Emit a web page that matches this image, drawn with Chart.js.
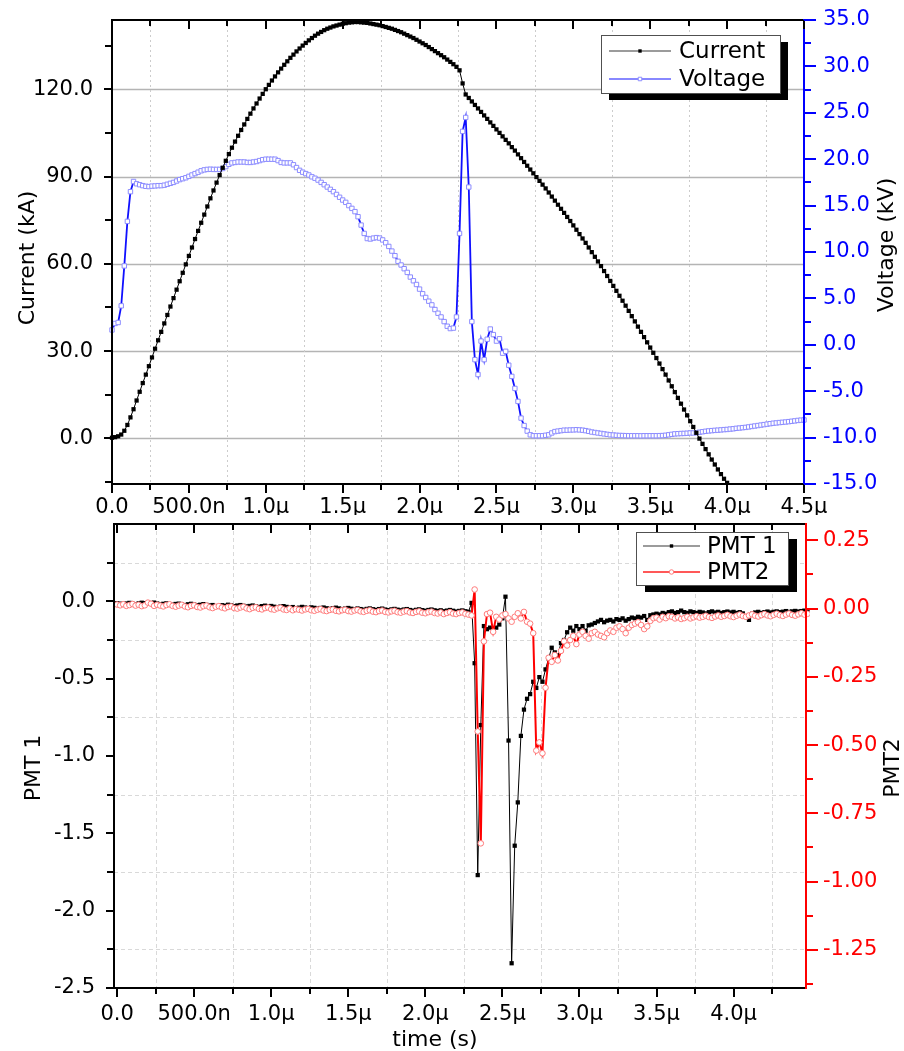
<!DOCTYPE html>
<html><head><meta charset="utf-8">
<script src="https://cdn.jsdelivr.net/npm/chart.js@4/dist/chart.umd.min.js"></script>
<style>
html,body{margin:0;padding:0;background:#fff;}
#wrap{position:relative;width:904px;height:1051px;overflow:hidden;background:#fff;}
.pane{position:absolute;left:0;width:904px;}
</style></head><body>
<div id="wrap">
  <div class="pane" style="top:0;height:515px"><canvas id="c1" width="904" height="515"></canvas></div>
  <div class="pane" style="top:515px;height:536px"><canvas id="c2" width="904" height="536"></canvas></div>
</div>
<script>
// ---------- DATA ----------
const timeStepMicro = 0.02; // µs between samples, series start at t = 0

const currentKA = [
0.2,0.4,0.7,1.3,2.6,4.6,7.2,10.0,13.0,16.0,
19.0,21.9,24.8,27.8,30.8,33.7,36.6,39.5,42.4,45.3,
48.2,51.1,54.0,56.9,59.8,62.7,65.6,68.5,71.3,74.1,
76.9,79.7,82.5,85.2,87.9,90.5,93.0,95.4,97.7,99.9,
102.0,104.0,106.0,107.9,109.8,111.6,113.4,115.1,116.8,118.4,
120.0,121.5,123.0,124.4,125.8,127.1,128.4,129.6,130.8,131.9,
133.0,134.0,135.0,135.9,136.8,137.6,138.4,139.1,139.7,140.3,
140.8,141.2,141.6,141.9,142.2,142.5,142.7,142.9,143.0,143.1,
143.1,143.0,142.9,142.8,142.6,142.4,142.2,142.0,141.7,141.4,
141.1,140.8,140.4,140.0,139.6,139.1,138.6,138.1,137.6,137.0,
136.4,135.8,135.2,134.5,133.8,133.1,132.4,131.7,131.0,130.2,
129.4,128.6,127.7,126.5,122.0,118.2,117.0,115.8,114.6,113.4,
112.2,111.0,109.8,108.6,107.4,106.2,105.0,103.8,102.6,101.4,
100.1,98.9,97.6,96.3,95.0,93.7,92.4,91.1,89.8,88.5,
87.2,85.9,84.5,83.1,81.7,80.3,78.9,77.5,76.1,74.7,
73.2,71.7,70.2,68.7,67.2,65.6,64.0,62.4,60.8,59.2,
57.5,55.8,54.1,52.4,50.7,49.0,47.3,45.6,43.8,42.0,
40.2,38.4,36.6,34.8,33.0,31.2,29.4,27.6,25.7,23.8,
21.9,19.9,17.9,15.9,13.9,11.9,9.9,7.9,5.9,3.9,
1.9,-0.1,-1.9,-3.7,-5.5,-7.3,-9.0,-10.7,-12.3,-13.9,
-15.3];

const voltageKV = [
1.6,2.3,2.4,4.2,8.5,13.3,16.5,17.6,17.35,17.25,
17.15,17.08,17.05,17.1,17.12,17.15,17.15,17.2,17.3,17.4,
17.5,17.65,17.8,17.9,18.0,18.15,18.3,18.45,18.6,18.75,
18.85,18.9,18.92,18.9,18.9,18.9,19.0,19.2,19.45,19.6,
19.65,19.7,19.7,19.7,19.65,19.65,19.7,19.75,19.85,19.95,
20.0,20.0,20.0,20.0,19.85,19.65,19.6,19.6,19.6,19.4,
19.1,18.8,18.6,18.45,18.3,18.1,17.95,17.75,17.5,17.25,
17.0,16.75,16.5,16.2,15.9,15.6,15.35,15.0,14.7,14.35,
13.8,12.9,12.0,11.45,11.4,11.5,11.55,11.5,11.3,11.0,
10.6,10.1,9.6,9.0,8.6,8.2,7.8,7.3,6.9,6.5,
6.0,5.5,5.1,4.7,4.3,3.8,3.4,3.0,2.5,2.0,
1.75,1.8,3.0,12.0,23.0,24.5,17.0,2.5,-1.6,-3.2,
0.4,-1.6,0.6,1.7,1.1,0.4,0.65,-0.9,-0.7,-2.2,
-3.4,-4.7,-6.1,-7.9,-8.7,-9.3,-9.7,-9.8,-9.8,-9.8,
-9.8,-9.75,-9.7,-9.5,-9.35,-9.3,-9.25,-9.2,-9.2,-9.18,
-9.17,-9.15,-9.17,-9.2,-9.25,-9.32,-9.4,-9.45,-9.5,-9.55,
-9.6,-9.65,-9.7,-9.72,-9.75,-9.77,-9.78,-9.79,-9.8,-9.8,
-9.8,-9.8,-9.81,-9.8,-9.8,-9.8,-9.8,-9.8,-9.79,-9.78,
-9.75,-9.7,-9.65,-9.6,-9.58,-9.56,-9.55,-9.53,-9.5,-9.5,
-9.48,-9.42,-9.37,-9.32,-9.28,-9.25,-9.22,-9.2,-9.17,-9.14,
-9.12,-9.08,-9.05,-9.0,-8.97,-8.93,-8.9,-8.85,-8.8,-8.75,
-8.7,-8.65,-8.6,-8.55,-8.5,-8.45,-8.42,-8.38,-8.35,-8.32,
-8.28,-8.24,-8.2,-8.15,-8.12,-8.1];

const pmt1Signal = [
-0.012,-0.015,-0.018,-0.014,-0.010,-0.016,-0.020,-0.013,-0.009,-0.012,
-0.015,-0.011,-0.008,-0.014,-0.019,-0.016,-0.013,-0.018,-0.022,-0.017,
-0.015,-0.020,-0.024,-0.019,-0.016,-0.021,-0.025,-0.022,-0.018,-0.023,
-0.027,-0.024,-0.034,-0.030,-0.025,-0.028,-0.022,-0.026,-0.031,-0.027,
-0.024,-0.029,-0.033,-0.030,-0.027,-0.032,-0.036,-0.031,-0.028,-0.033,
-0.030,-0.035,-0.039,-0.034,-0.031,-0.036,-0.040,-0.037,-0.045,-0.041,
-0.036,-0.040,-0.044,-0.039,-0.042,-0.047,-0.043,-0.040,-0.045,-0.049,
-0.044,-0.041,-0.046,-0.050,-0.047,-0.043,-0.048,-0.052,-0.046,-0.050,
-0.054,-0.049,-0.046,-0.051,-0.055,-0.050,-0.047,-0.053,-0.057,-0.052,
-0.049,-0.054,-0.058,-0.053,-0.050,-0.056,-0.060,-0.055,-0.052,-0.057,
-0.061,-0.056,-0.053,-0.058,-0.062,-0.058,-0.064,-0.060,-0.056,-0.061,
-0.066,-0.062,-0.059,-0.064,-0.068,-0.010,-0.40,-1.77,-0.80,-0.16,
-0.18,-0.17,-0.19,-0.17,-0.15,-0.11,0.03,-0.90,-2.34,-1.58,
-1.30,-0.87,-0.70,-0.63,-0.60,-0.52,-0.56,-0.49,-0.52,-0.44,
-0.37,-0.30,-0.33,-0.35,-0.27,-0.25,-0.20,-0.17,-0.19,-0.16,
-0.18,-0.16,-0.19,-0.155,-0.15,-0.14,-0.13,-0.12,-0.135,-0.125,
-0.12,-0.13,-0.115,-0.12,-0.11,-0.125,-0.115,-0.105,-0.11,-0.10,
-0.105,-0.095,-0.12,-0.09,-0.085,-0.08,-0.085,-0.075,-0.08,-0.07,
-0.065,-0.075,-0.07,-0.06,-0.07,-0.075,-0.065,-0.07,-0.075,-0.068,
-0.072,-0.078,-0.07,-0.065,-0.072,-0.068,-0.075,-0.07,-0.066,-0.072,
-0.068,-0.075,-0.07,-0.078,-0.095,-0.12,-0.08,-0.072,-0.068,-0.075,
-0.07,-0.066,-0.072,-0.068,-0.065,-0.07,-0.067,-0.063,-0.068,-0.065,
-0.062,-0.066,-0.063,-0.06,-0.058];

const pmt2Signal = [
0.015,0.012,0.016,0.010,0.013,0.017,0.011,0.014,0.009,0.012,
0.022,0.018,0.010,0.014,0.011,0.008,0.013,0.016,0.010,0.007,
0.011,0.014,0.008,0.005,0.010,0.012,0.006,0.004,0.009,0.011,
0.005,0.002,0.007,0.009,0.004,0.001,0.006,0.008,0.002,0.000,
0.004,0.007,0.001,-0.002,0.003,0.005,-0.001,-0.003,0.002,0.004,
-0.002,-0.004,0.001,0.003,-0.003,-0.005,0.000,-0.006,-0.002,-0.004,
-0.007,-0.003,-0.001,-0.006,-0.008,-0.004,-0.002,-0.007,-0.009,-0.005,
-0.003,-0.008,-0.010,-0.006,-0.004,-0.009,-0.011,-0.007,-0.005,-0.010,
-0.012,-0.008,-0.006,-0.011,-0.013,-0.009,-0.007,-0.012,-0.014,-0.010,
-0.008,-0.013,-0.015,-0.011,-0.009,-0.014,-0.016,-0.012,-0.010,-0.015,
-0.017,-0.013,-0.011,-0.016,-0.018,-0.014,-0.020,-0.016,-0.013,-0.018,
-0.020,-0.016,-0.014,-0.019,-0.022,-0.025,0.07,-0.45,-0.86,-0.12,
-0.02,-0.015,-0.085,-0.03,-0.04,-0.025,-0.02,-0.036,-0.048,-0.03,
-0.017,-0.036,-0.012,-0.048,-0.055,-0.09,-0.52,-0.49,-0.53,-0.29,
-0.18,-0.195,-0.17,-0.19,-0.155,-0.12,-0.135,-0.115,-0.10,-0.13,
-0.095,-0.085,-0.10,-0.11,-0.09,-0.085,-0.095,-0.10,-0.105,-0.09,
-0.08,-0.085,-0.07,-0.065,-0.075,-0.09,-0.07,-0.06,-0.055,-0.05,
-0.06,-0.075,-0.065,-0.045,-0.035,-0.033,-0.04,-0.03,-0.035,-0.028,
-0.03,-0.036,-0.032,-0.038,-0.035,-0.03,-0.036,-0.032,-0.028,-0.033,
-0.03,-0.026,-0.031,-0.034,-0.029,-0.025,-0.03,-0.027,-0.023,-0.028,
-0.031,-0.026,-0.022,-0.027,-0.03,-0.025,-0.021,-0.026,-0.029,-0.024,
-0.02,-0.025,-0.028,-0.023,-0.019,-0.024,-0.027,-0.022,-0.018,-0.023,
-0.026,-0.021,-0.017,-0.022,-0.019];

// tick values and labels
const topTimeTicks = [0,0.5,1,1.5,2,2.5,3,3.5,4,4.5];
const topTimeTickLabels = ['0.0','500.0n','1.0\u00b5','1.5\u00b5','2.0\u00b5','2.5\u00b5','3.0\u00b5','3.5\u00b5','4.0\u00b5','4.5\u00b5'];
const timeMinorTicks = [0.25,0.75,1.25,1.75,2.25,2.75,3.25,3.75,4.25];
const bottomTimeTicks = [0,0.5,1,1.5,2,2.5,3,3.5,4];
const bottomTimeTickLabels = ['0.0','500.0n','1.0\u00b5','1.5\u00b5','2.0\u00b5','2.5\u00b5','3.0\u00b5','3.5\u00b5','4.0\u00b5'];
const currentTicks = [0,30,60,90,120];
const currentTickLabels = ['0.0','30.0','60.0','90.0','120.0'];
const currentMinorTicks = [-15,15,45,75,105,135];
const voltageTicks = [-15,-10,-5,0,5,10,15,20,25,30,35];
const voltageTickLabels = ['-15.0','-10.0','-5.0','0.0','5.0','10.0','15.0','20.0','25.0','30.0','35.0'];
const voltageMinorTicks = [-12.5,-7.5,-2.5,2.5,7.5,12.5,17.5,22.5,27.5,32.5];
const pmt1Ticks = [-2.5,-2,-1.5,-1,-0.5,0];
const pmt1TickLabels = ['-2.5','-2.0','-1.5','-1.0','-0.5','0.0'];
const pmt1MinorTicks = [0.25,-0.25,-0.75,-1.25,-1.75,-2.25];
const pmt2Ticks = [-1.25,-1,-0.75,-0.5,-0.25,0,0.25];
const pmt2TickLabels = ['-1.25','-1.00','-0.75','-0.50','-0.25','0.00','0.25'];
const pmt2MinorTicks = [0.125,-0.125,-0.375,-0.625,-0.875,-1.125,-1.375];

// ---------- HELPERS ----------
const FONT = "'DejaVu Sans', sans-serif";
const TICK_SIZE = 21;
const toPoints = arr => arr.map((v, i) => ({x: Math.round(i * timeStepMicro * 1000) / 1000, y: v}));

function fixedAxis(values, labels, color, pad, size, extra) {
  return Object.assign({
    type: 'linear',
    afterBuildTicks: s => { s.ticks = values.map(v => ({value: v})); },
    afterFit: s => {
      if (s.isHorizontal()) s.height = size; else s.width = size;
      s.paddingTop = 0; s.paddingBottom = 0; s.paddingLeft = 0; s.paddingRight = 0;
    },
    grid: {display: false, drawTicks: false},
    border: {display: false},
    ticks: {callback: (v, i) => labels[i], autoSkip: false, maxRotation: 0, minRotation: 0,
            padding: pad, color: color, font: {family: FONT, size: TICK_SIZE}}
  }, extra);
}

function decorPlugin(cfg) {
  return {
    id: 'decor',
    beforeDatasetsDraw(chart) {
      const ctx = chart.ctx, a = chart.chartArea;
      ctx.save();
      cfg.grids.forEach(g => {
        const sc = chart.scales[g.axis];
        ctx.strokeStyle = g.color; ctx.lineWidth = g.width; ctx.setLineDash(g.dash);
        g.values.forEach(v => {
          const p = Math.round(sc.getPixelForValue(v)) + (g.width % 2 ? 0.5 : 0);
          ctx.beginPath();
          if (sc.isHorizontal()) { ctx.moveTo(p, a.top); ctx.lineTo(p, a.bottom); }
          else { ctx.moveTo(a.left, p); ctx.lineTo(a.right, p); }
          ctx.stroke();
        });
      });
      ctx.restore();
    },
    afterDatasetsDraw(chart) {
      const ctx = chart.ctx, a = chart.chartArea;
      ctx.save();
      ctx.setLineDash([]);
      ctx.lineWidth = 2;
      ctx.strokeStyle = '#000';
      ctx.beginPath(); ctx.moveTo(a.left, a.top - 1); ctx.lineTo(a.left, a.bottom + 1); ctx.stroke();
      ctx.beginPath(); ctx.moveTo(a.left - 1, a.bottom); ctx.lineTo(a.right, a.bottom); ctx.stroke();
      ctx.beginPath(); ctx.moveTo(a.left - 1, a.top); ctx.lineTo(a.right, a.top); ctx.stroke();
      ctx.strokeStyle = cfg.rightColor;
      ctx.beginPath(); ctx.moveTo(a.right, a.top - 1); ctx.lineTo(a.right, a.bottom + 1); ctx.stroke();
      cfg.ticks.forEach(t => {
        const sc = chart.scales[t.axis];
        ctx.strokeStyle = t.color; ctx.lineWidth = 2;
        const one = (v, len) => {
          const p = Math.round(sc.getPixelForValue(v));
          ctx.beginPath();
          if (t.edge === 'bottom') { ctx.moveTo(p, a.bottom); ctx.lineTo(p, a.bottom + t.sign * len); }
          else if (t.edge === 'top') { ctx.moveTo(p, a.top); ctx.lineTo(p, a.top + t.sign * len); }
          else if (t.edge === 'left') { ctx.moveTo(a.left, p); ctx.lineTo(a.left + t.sign * len, p); }
          else { ctx.moveTo(a.right, p); ctx.lineTo(a.right + t.sign * len, p); }
          ctx.stroke();
        };
        t.major.forEach(v => one(v, t.majorLen));
        t.minor.forEach(v => one(v, t.minorLen));
      });
      ctx.restore();
    },
    afterDraw(chart) {
      const ctx = chart.ctx;
      ctx.save();
      cfg.titles.forEach(tt => {
        ctx.save();
        ctx.translate(tt.x, tt.y);
        ctx.rotate(tt.rot);
        ctx.font = tt.size + 'px ' + FONT;
        ctx.fillStyle = '#000';
        ctx.textAlign = 'center'; ctx.textBaseline = 'middle';
        ctx.fillText(tt.text, 0, 0);
        ctx.restore();
      });
      const L = cfg.legend;
      ctx.fillStyle = '#000';
      ctx.fillRect(L.x + L.sx, L.y + L.sy, L.w, L.h);
      ctx.fillStyle = '#fff';
      ctx.fillRect(L.x, L.y, L.w, L.h);
      ctx.strokeStyle = '#505050'; ctx.lineWidth = 1;
      ctx.strokeRect(L.x + 0.5, L.y + 0.5, L.w, L.h);
      chart.data.datasets.forEach((ds, i) => {
        const yy = L.y + L.rows[i];
        ctx.strokeStyle = ds.legendLine || ds.borderColor; ctx.lineWidth = 1.3;
        ctx.beginPath(); ctx.moveTo(L.x + L.l0, yy); ctx.lineTo(L.x + L.l1, yy); ctx.stroke();
        const cx = L.x + (L.l0 + L.l1) / 2;
        const r = ds.pointRadius * 0.8;
        ctx.fillStyle = ds.pointBackgroundColor;
        ctx.strokeStyle = ds.pointBorderColor; ctx.lineWidth = ds.pointBorderWidth || 1;
        ctx.beginPath();
        if (ds.pointStyle === 'circle') ctx.arc(cx, yy, r, 0, Math.PI * 2);
        else { const s = r * Math.SQRT1_2; ctx.rect(cx - s, yy - s, 2 * s, 2 * s); }
        ctx.fill(); if (ds.pointBorderWidth) ctx.stroke();
        ctx.fillStyle = '#000';
        ctx.font = L.font + 'px ' + FONT;
        ctx.textAlign = 'left'; ctx.textBaseline = 'middle';
        ctx.fillText(ds.label, L.x + L.tx, yy + 1);
      });
      ctx.restore();
    }
  };
}

// ---------- TOP CHART ----------
new Chart(document.getElementById('c1'), {
  type: 'line',
  data: {datasets: [
    {label: 'Current', data: toPoints(currentKA), yAxisID: 'y', borderColor: '#000', borderWidth: 1,
     pointStyle: 'rect', pointRadius: 3, pointBackgroundColor: '#000', pointBorderColor: '#000',
     pointBorderWidth: 0, legendLine: '#7a7a7a', tension: 0, clip: 4},
    {label: 'Voltage', data: toPoints(voltageKV), yAxisID: 'y2', borderColor: '#1010ff', borderWidth: 1.8,
     pointStyle: 'rect', pointRadius: 3.1, pointBackgroundColor: '#fff', pointBorderColor: '#8c8cff',
     pointBorderWidth: 1, legendLine: '#6060ff', tension: 0, clip: 4}
  ]},
  options: {
    responsive: false, animation: false, devicePixelRatio: 1, events: [],
    layout: {padding: {top: 20, left: 0, right: 0, bottom: 0}},
    plugins: {legend: {display: false}, tooltip: {enabled: false}},
    scales: {
      x: fixedAxis(topTimeTicks, topTimeTickLabels, '#000', 11, 31, {position: 'bottom', min: 0, max: 4.5}),
      y: fixedAxis(currentTicks, currentTickLabels, '#000', 19, 112, {position: 'left', min: -15.7, max: 143.8}),
      y2: fixedAxis(voltageTicks, voltageTickLabels, '#0000ff', 19, 100, {position: 'right', min: -15, max: 35})
    }
  },
  plugins: [decorPlugin({
    rightColor: '#0000ff',
    grids: [
      {axis: 'y', values: currentTicks, color: '#b4b4b4', width: 1.5, dash: []},
      {axis: 'x', values: timeMinorTicks, color: '#cccccc', width: 1, dash: [2, 3]}
    ],
    ticks: [
      {axis: 'x', edge: 'bottom', sign: 1, major: topTimeTicks, minor: timeMinorTicks, majorLen: 9, minorLen: 6, color: '#000'},
      {axis: 'x', edge: 'top', sign: 1, major: topTimeTicks, minor: timeMinorTicks, majorLen: 9, minorLen: 6, color: '#000'},
      {axis: 'y', edge: 'left', sign: -1, major: currentTicks, minor: currentMinorTicks, majorLen: 8, minorLen: 7, color: '#000'},
      {axis: 'y2', edge: 'right', sign: 1, major: voltageTicks, minor: voltageMinorTicks, majorLen: 12, minorLen: 7, color: '#0000ff'}
    ],
    titles: [
      {text: 'Current (kA)', x: 28, y: 258, rot: -Math.PI / 2, size: 22},
      {text: 'Voltage (kV)', x: 887, y: 245, rot: -Math.PI / 2, size: 22}
    ],
    legend: {x: 601, y: 35, w: 179, h: 58, sx: 8, sy: 7, rows: [16, 44], l0: 8, l1: 70, tx: 78, font: 23}
  })]
});

// ---------- BOTTOM CHART ----------
new Chart(document.getElementById('c2'), {
  type: 'line',
  data: {datasets: [
    {label: 'PMT 1', data: toPoints(pmt1Signal), yAxisID: 'y', borderColor: '#000', borderWidth: 1,
     pointStyle: 'rect', pointRadius: 3, pointBackgroundColor: '#000', pointBorderColor: '#000',
     pointBorderWidth: 0, legendLine: '#7a7a7a', tension: 0, order: 1, clip: 4},
    {label: 'PMT2', data: toPoints(pmt2Signal), yAxisID: 'y2', borderColor: '#ff0000', borderWidth: 2,
     pointStyle: 'circle', pointRadius: 2.8, pointBackgroundColor: '#fff', pointBorderColor: '#ff7a7a',
     pointBorderWidth: 1, legendLine: '#ff2020', tension: 0, order: 0, clip: 4}
  ]},
  options: {
    responsive: false, animation: false, devicePixelRatio: 1, events: [],
    layout: {padding: {top: 9, left: 0, right: 0, bottom: 0}},
    plugins: {legend: {display: false}, tooltip: {enabled: false}},
    scales: {
      x: fixedAxis(bottomTimeTicks, bottomTimeTickLabels, '#000', 14, 63, {position: 'bottom', min: -0.02, max: 4.47}),
      y: fixedAxis(pmt1Ticks, pmt1TickLabels, '#000', 19, 114, {position: 'left', min: -2.5, max: 0.5}),
      y2: fixedAxis(pmt2Ticks, pmt2TickLabels, '#ff0000', 17, 98, {position: 'right', min: -1.39, max: 0.31})
    }
  },
  plugins: [decorPlugin({
    rightColor: '#ff0000',
    grids: [
      {axis: 'y', values: pmt1MinorTicks, color: '#d9d9d9', width: 1, dash: [4, 3]},
      {axis: 'x', values: timeMinorTicks, color: '#d9d9d9', width: 1, dash: [4, 3]}
    ],
    ticks: [
      {axis: 'x', edge: 'bottom', sign: 1, major: bottomTimeTicks, minor: timeMinorTicks, majorLen: 9, minorLen: 6, color: '#000'},
      {axis: 'x', edge: 'top', sign: 1, major: bottomTimeTicks, minor: timeMinorTicks, majorLen: 9, minorLen: 6, color: '#000'},
      {axis: 'y', edge: 'left', sign: -1, major: pmt1Ticks, minor: pmt1MinorTicks, majorLen: 8, minorLen: 7, color: '#000'},
      {axis: 'y2', edge: 'right', sign: 1, major: pmt2Ticks, minor: pmt2MinorTicks, majorLen: 12, minorLen: 7, color: '#ff0000'}
    ],
    titles: [
      {text: 'PMT 1', x: 34, y: 253, rot: -Math.PI / 2, size: 22},
      {text: 'PMT2', x: 893, y: 253, rot: -Math.PI / 2, size: 22},
      {text: 'time (s)', x: 435, y: 525, rot: 0, size: 22}
    ],
    legend: {x: 636, y: 17, w: 152, h: 53, sx: 9, sy: 7, rows: [14, 40], l0: 7, l1: 64, tx: 71, font: 23}
  })]
});
</script>
</body></html>
